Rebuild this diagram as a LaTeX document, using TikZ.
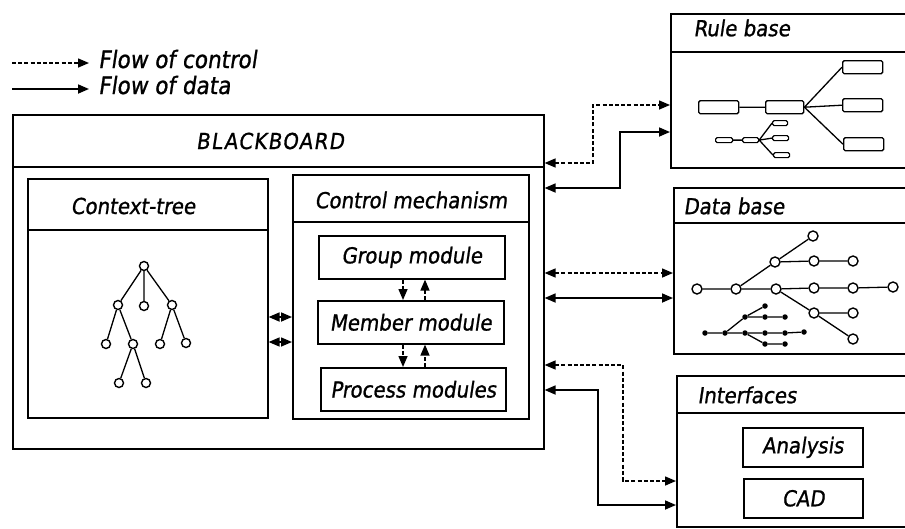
\documentclass[tikz,border=0pt]{standalone}
\usepackage{fontspec}
\setmainfont{DejaVu Sans Condensed}[FakeSlant=0.15,FakeBold=1]
\usetikzlibrary{arrows.meta,calc}
\begin{document}
\begin{tikzpicture}[x=1pt,y=-1pt,
  font=\fontsize{22}{26}\selectfont,
  box/.style={draw, line width=1.6pt, inner sep=0pt, anchor=north west},
  sep/.style={line width=1.6pt},
  tip/.style={-{Triangle[length=11pt,width=9pt]}},
  both/.style={{Triangle[length=11pt,width=9pt]}-{Triangle[length=11pt,width=9pt]}},
  ctrl/.style={line width=1.5pt, dash pattern=on 4pt off 2.2pt},
  data/.style={line width=1.7pt},
  onode/.style={circle, draw, line width=1.4pt, fill=white, inner sep=0pt, minimum size=9pt},
  dnode/.style={circle, draw, line width=1.4pt, fill=white, inner sep=0pt, minimum size=10pt},
  fdot/.style={circle, fill=black, inner sep=0pt, minimum size=5.5pt},
  rbox/.style={draw, line width=1.4pt, rounded corners=1.5pt, inner sep=0pt, anchor=north west},
  edge/.style={line width=1.3pt},
]
\path[use as bounding box] (0,0) rectangle (905,528);
\clip (0,0) rectangle (905,528);

% legend
\node[anchor=base west, inner sep=0pt, font=\fontsize{24}{28}\selectfont] (lc) at (98,68) {Flow of control};
\node[anchor=base west, inner sep=0pt, font=\fontsize{24}{28}\selectfont] (ld) at (98,94) {Flow of data};
\coordinate (lcs) at (12,63);
\coordinate (lds) at (12,89);
\draw[ctrl,tip] (lcs) -- ($(lc.west |- lcs)+(-9,0)$);
\draw[data,tip] (lds) -- ($(ld.west |- lds)+(-9,0)$);

% blackboard
\node[box, minimum width=531pt, minimum height=334pt] (bb) at (12,114) {};
\draw[sep] (bb.west |- 0,167) -- (bb.east |- 0,167);
\node (bbt) at (270,141) {\addfontfeature{LetterSpace=6}BLACKBOARD};

% context tree
\node[box, minimum width=240pt, minimum height=239pt] (ctx) at (27,178) {};
\draw[sep] (ctx.west |- 0,230) -- (ctx.east |- 0,230);
\node (ctxt) at (133,206) {Context-tree};
\node[onode] (t1) at (144,266) {};
\node[onode] (t2) at (118,305) {};
\node[onode] (t3) at (144,306) {};
\node[onode] (t4) at (172,305) {};
\node[onode] (t5) at (106,344) {};
\node[onode] (t6) at (133,344) {};
\node[onode] (t7) at (160,344) {};
\node[onode] (t8) at (186,343) {};
\node[onode] (t9) at (119,383) {};
\node[onode] (t10) at (146,383) {};
\draw[edge] (t1) -- (t2) (t1) -- (t3) (t1) -- (t4)
  (t2) -- (t5) (t2) -- (t6) (t4) -- (t7) (t4) -- (t8)
  (t6) -- (t9) (t6) -- (t10);

% control mechanism
\node[box, minimum width=236pt, minimum height=244pt] (cm) at (292,174) {};
\draw[sep] (cm.west |- 0,222) -- (cm.east |- 0,222);
\node (cmt) at (411,200) {Control mechanism};
\node[box, minimum width=186pt, minimum height=43pt] (grp) at (318,235) {Group module};
\node[box, minimum width=186pt, minimum height=43pt] (mem) at (317,300) {Member module};
\node[box, minimum width=185pt, minimum height=43pt] (proc) at (320,367) {Process modules};
\draw[ctrl,tip] (grp.south -| 403,0) -- (mem.north -| 403,0);
\draw[ctrl,tip] (mem.north -| 425,0) -- (grp.south -| 425,0);
\draw[ctrl,tip] (mem.south -| 403,0) -- (proc.north -| 403,0);
\draw[ctrl,tip] (proc.north -| 425,0) -- (mem.south -| 425,0);

% context <-> control
\draw[data,both] (ctx.east |- 0,317) -- (cm.west |- 0,317);
\draw[ctrl,both] (ctx.east |- 0,342) -- (cm.west |- 0,342);

% rule base
\node[box, minimum width=260pt, minimum height=154pt] (rb) at (670,13) {};
\draw[sep] (rb.west |- 0,52) -- (rb.east |- 0,52);
\node[anchor=west] (rbt) at (690,28) {Rule base};
\node[rbox, minimum width=40pt, minimum height=13pt] (r1) at (698,100) {};
\node[rbox, minimum width=38pt, minimum height=13pt] (r2) at (765,100) {};
\node[rbox, minimum width=40pt, minimum height=13pt] (r3) at (842,60) {};
\node[rbox, minimum width=40pt, minimum height=13pt] (r4) at (842,98) {};
\node[rbox, minimum width=40pt, minimum height=13pt] (r5) at (843,137) {};
\node[rbox, minimum width=17pt, minimum height=5pt, line width=1.2pt] (s1) at (715,137) {};
\node[rbox, minimum width=16pt, minimum height=5pt, line width=1.2pt] (s2) at (742,137) {};
\node[rbox, minimum width=15pt, minimum height=5pt, line width=1.2pt] (s3) at (772,120) {};
\node[rbox, minimum width=16pt, minimum height=5pt, line width=1.2pt] (s4) at (772,135) {};
\node[rbox, minimum width=16pt, minimum height=5pt, line width=1.2pt] (s5) at (773,152) {};
\draw[edge] (r1.east) -- (r2.west) (r2.east) -- (r3.west) (r2.east) -- (r4.west) (r2.east) -- (r5.west);
\draw[edge] (s1.east) -- (s2.west) (s2.east) -- (s3.west) (s2.east) -- (s4.west) (s2.east) -- (s5.west);

% data base
\node[box, minimum width=260pt, minimum height=166pt] (db) at (673,187) {};
\draw[sep] (db.west |- 0,223) -- (db.east |- 0,223);
\node[anchor=west] (dbt) at (680,206) {Data base};
\node[dnode] (dA) at (697,289) {};
\node[dnode] (dB) at (736,289) {};
\node[dnode] (dC) at (775,262) {};
\node[dnode] (dD) at (813,236) {};
\node[dnode] (dE) at (814,261) {};
\node[dnode] (dF) at (853,261) {};
\node[dnode] (dG) at (776,289) {};
\node[dnode] (dH) at (814,288) {};
\node[dnode] (dI) at (853,288) {};
\node[dnode] (dJ) at (893,287) {};
\node[dnode] (dK) at (814,313) {};
\node[dnode] (dL) at (853,313) {};
\node[dnode] (dM) at (853,339) {};
\draw[edge] (dA) -- (dB) (dB) -- (dC) (dC) -- (dD) (dC) -- (dE) (dE) -- (dF)
  (dB) -- (dG) (dG) -- (dH) (dH) -- (dI) (dI) -- (dJ)
  (dG) -- (dK) (dK) -- (dL) (dK) -- (dM);
\node[fdot] (ea) at (705,333) {};
\node[fdot] (eb) at (725,333) {};
\node[fdot] (ec) at (745,317) {};
\node[fdot] (ed) at (765,306) {};
\node[fdot] (ee) at (765,317) {};
\node[fdot] (ef) at (785,317) {};
\node[fdot] (eg) at (745,333) {};
\node[fdot] (eh) at (765,333) {};
\node[fdot] (ei) at (785,333) {};
\node[fdot] (ej) at (804,332) {};
\node[fdot] (ek) at (765,344) {};
\node[fdot] (el) at (785,344) {};
\draw[edge] (ea) -- (eb) (eb) -- (ec) (ec) -- (ed) (ec) -- (ee) (ee) -- (ef)
  (eb) -- (eg) (eg) -- (eh) (eh) -- (ei) (ei) -- (ej) (eg) -- (ek) (ek) -- (el);

% interfaces
\node[box, minimum width=260pt, minimum height=151pt] (intf) at (676,375) {};
\draw[sep] (intf.west |- 0,413) -- (intf.east |- 0,413);
\node[anchor=west] (intt) at (694,395) {Interfaces};
\node[box, minimum width=120pt, minimum height=39pt] (ana) at (742,427) {Analysis};
\node[box, minimum width=119pt, minimum height=39pt] (cad) at (743,478) {CAD};

% blackboard <-> right boxes
\draw[ctrl,both] (bb.east |- 0,163) -| (593,105) -- (rb.west |- 0,105);
\draw[data,both] (bb.east |- 0,188) -| (620,132) -- (rb.west |- 0,132);
\draw[ctrl,both] (bb.east |- 0,273) -- (db.west |- 0,273);
\draw[data,both] (bb.east |- 0,298) -- (db.west |- 0,298);
\draw[ctrl,both] (bb.east |- 0,365) -| (623,481) -- (intf.west |- 0,481);
\draw[data,both] (bb.east |- 0,390) -| (598,505) -- (intf.west |- 0,505);
\end{tikzpicture}
\end{document}
